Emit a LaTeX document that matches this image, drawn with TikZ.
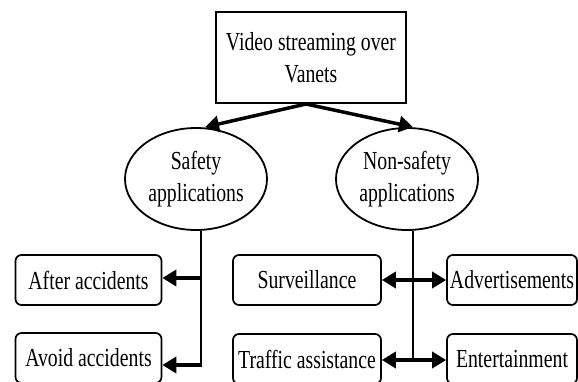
\documentclass[tikz,border=0pt]{standalone}
\usepackage{fontspec}
\setmainfont{Liberation Serif}[FakeStretch=0.76]
\usetikzlibrary{arrows.meta,shapes.geometric}
\begin{document}
\begin{tikzpicture}[x=1pt,y=-1pt,
  txt/.style={font=\fontsize{26}{32}\selectfont, inner sep=0pt, align=center},
  mainbox/.style={txt, draw, line width=2pt, minimum width=190pt, minimum height=91pt},
  ell/.style={txt, draw, ellipse, line width=1.8pt, minimum width=142pt, minimum height=102pt},
  leaf/.style={txt, draw, rounded corners=6pt, line width=1.7pt, minimum height=50pt},
  arr/.style={line width=3.5pt, -{Triangle[length=14pt,width=16pt]}},
  darr/.style={line width=3.5pt, {Triangle[length=14pt,width=16pt]}-{Triangle[length=14pt,width=16pt]}},
  trunk/.style={line width=2pt}
]
\clip (0,0) rectangle (578,381);
\node[mainbox] (top) at (311,57.5) {Video streaming over\\Vanets};
\node[ell] (safety) at (196,179) {Safety\\applications};
\node[ell] (nonsafety) at (407,179) {Non-safety\\applications};
\node[leaf, minimum width=146pt] (after) at (88.5,280) {After accidents};
\node[leaf, minimum width=146pt] (avoid) at (88.5,358) {Avoid accidents};
\node[leaf, minimum width=148pt] (surv) at (307,280) {Surveillance};
\node[leaf, minimum width=130pt] (adv) at (512,280) {Advertisements};
\node[leaf, minimum width=148pt] (traffic) at (307,359) {Traffic assistance};
\node[leaf, minimum width=130pt] (ent) at (512,359) {Entertainment};
\coordinate (jl1) at (201,278);
\coordinate (jl2) at (201,365);
\coordinate (jr1) at (413,280);
\coordinate (jr2) at (413,360);
\draw[arr] ([xshift=-5pt]top.south) -- ([xshift=9pt]safety.north);
\draw[arr] ([xshift=-5pt]top.south) -- ([xshift=6pt]nonsafety.north);
\draw[trunk] (safety.south -| jl1) -- (jl2);
\draw[arr] (jl1) -- (after.east |- jl1);
\draw[arr] ([xshift=1pt]jl2) -- (avoid.east |- jl2);
\draw[trunk] (nonsafety.south -| jr1) -- (jr2);
\draw[darr] (surv.east |- jr1) -- (adv.west |- jr1);
\draw[darr] (traffic.east |- jr2) -- (ent.west |- jr2);
\end{tikzpicture}
\end{document}
